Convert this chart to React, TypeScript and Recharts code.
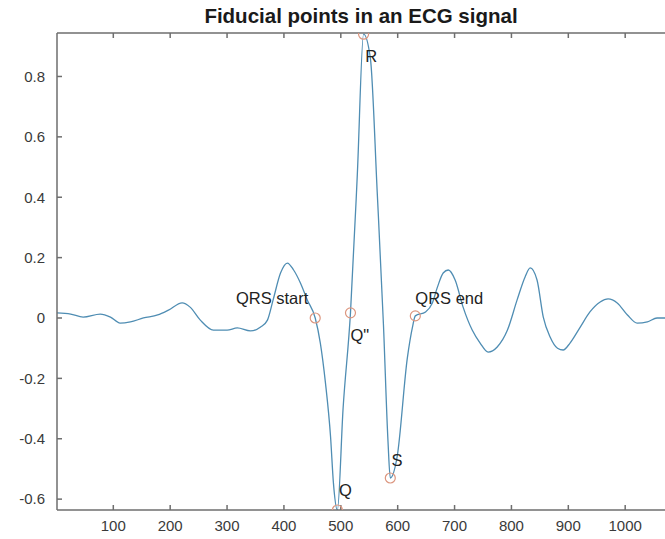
import { ComposedChart, Line, Scatter, XAxis, YAxis } from 'recharts'

// ECG trace (sample index, amplitude)
const sampleIdx = [
  1, 25, 47, 77, 95, 112, 130, 153, 178, 197, 221, 235, 253, 276, 300, 318, 341, 359, 371, 381,
  394, 406, 417, 429, 441, 455, 464, 473, 482, 487, 494, 504, 517, 529, 540, 552, 564, 575, 583,
  587, 599, 617, 626, 631, 649, 661, 670, 680, 689, 701, 715, 731, 745, 759, 775, 793, 810, 824,
  833, 845, 856, 868, 881, 891, 903, 921, 938, 956, 970, 986, 1004, 1021, 1039, 1056, 1070
]
const ecgValues = [
  0.017, 0.013, 0.003, 0.013, 0.003, -0.017, -0.013, 0.0, 0.01, 0.026, 0.05, 0.036, -0.007, -0.04,
  -0.04, -0.033, -0.043, -0.03, -0.007, 0.06, 0.149, 0.182, 0.159, 0.116, 0.06, 0.0, -0.083, -0.215,
  -0.394, -0.546, -0.636, -0.3, 0.017, 0.474, 0.94, 0.86, 0.417, -0.023, -0.41, -0.53, -0.46, -0.132,
  -0.03, 0.007, 0.02, 0.05, 0.103, 0.149, 0.159, 0.126, 0.036, -0.04, -0.083, -0.113, -0.096, -0.04,
  0.06, 0.136, 0.166, 0.126, 0.003, -0.063, -0.1, -0.106, -0.083, -0.03, 0.02, 0.053, 0.063, 0.05,
  0.01, -0.017, -0.013, 0.0, 0.0
]

// fiducial points and where their text sits
const fiducialNames = ['QRS start', 'Q', 'Q"', 'R', 'S', 'QRS end']
const fiducialIdx = [455, 494, 517, 540, 587, 631]
const fiducialValues = [0.0, -0.636, 0.017, 0.94, -0.53, 0.007]
const labelIdx = [443, 497, 517, 543, 589, 631]
const labelValues = [0.066, -0.57, -0.056, 0.868, -0.47, 0.066]

const xTicks = [100, 200, 300, 400, 500, 600, 700, 800, 900, 1000]
const yTicks = [-0.6, -0.4, -0.2, 0, 0.2, 0.4, 0.6, 0.8]

const signal = sampleIdx.map((x, i) => ({ x, y: ecgValues[i] }))
const points = fiducialNames.map((name, i) => ({ x: fiducialIdx[i], y: fiducialValues[i], name }))
const labels = fiducialNames.map((name, i) => ({ x: labelIdx[i], y: labelValues[i], name }))

const font = '"Liberation Sans", Arial, sans-serif'
const axisColor = '#6e6e6e'

const Ring = (props: any) => (
  <circle cx={props.cx} cy={props.cy} r={5} fill="none" stroke="#dc967f" strokeWidth={1.2} />
)

const Tag = (props: any) => (
  <text
    x={props.cx}
    y={props.cy}
    textAnchor={props.payload.name === 'QRS start' ? 'end' : 'start'}
    dominantBaseline="central"
    fontFamily={font}
    fontSize={16.5}
    fill="#222"
  >
    {props.payload.name}
  </text>
)

export default function App() {
  return (
    <div style={{ position: 'absolute', left: 0, top: 0, width: 665, height: 539, background: '#fff' }}>
      <div
        style={{
          position: 'absolute',
          left: 57,
          width: 608,
          top: 4,
          textAlign: 'center',
          fontFamily: font,
          fontWeight: 'bold',
          fontSize: 20.5,
          color: '#1a1a1a'
        }}
      >
        Fiducial points in an ECG signal
      </div>
      <ComposedChart width={665} height={539} margin={{ top: 32, right: 0, bottom: 0, left: 0 }}>
        <XAxis
          type="number"
          dataKey="x"
          domain={[1, 1070]}
          allowDataOverflow
          ticks={xTicks}
          height={29}
          tickSize={-5}
          tickMargin={15}
          stroke={axisColor}
          strokeWidth={1.5}
          tick={{ fill: '#3a3a3a', fontSize: 15, fontFamily: font }}
        />
        <XAxis
          xAxisId="top"
          orientation="top"
          type="number"
          dataKey="x"
          domain={[1, 1070]}
          allowDataOverflow
          ticks={xTicks}
          height={1}
          tickSize={-5}
          tickFormatter={() => ''}
          stroke={axisColor}
          strokeWidth={1.5}
        />
        <YAxis
          type="number"
          dataKey="y"
          domain={[-0.636, 0.944]}
          allowDataOverflow
          ticks={yTicks}
          width={57}
          tickSize={-5}
          tickMargin={17}
          stroke={axisColor}
          strokeWidth={1.5}
          tick={{ fill: '#3a3a3a', fontSize: 15, fontFamily: font }}
        />
        <Line
          data={signal}
          dataKey="y"
          type="monotone"
          stroke="#4f8db3"
          strokeWidth={1.3}
          dot={false}
          isAnimationActive={false}
        />
        <Scatter data={points} dataKey="y" shape={Ring} isAnimationActive={false} />
        <Scatter data={labels} dataKey="y" shape={Tag} isAnimationActive={false} />
      </ComposedChart>
    </div>
  )
}
